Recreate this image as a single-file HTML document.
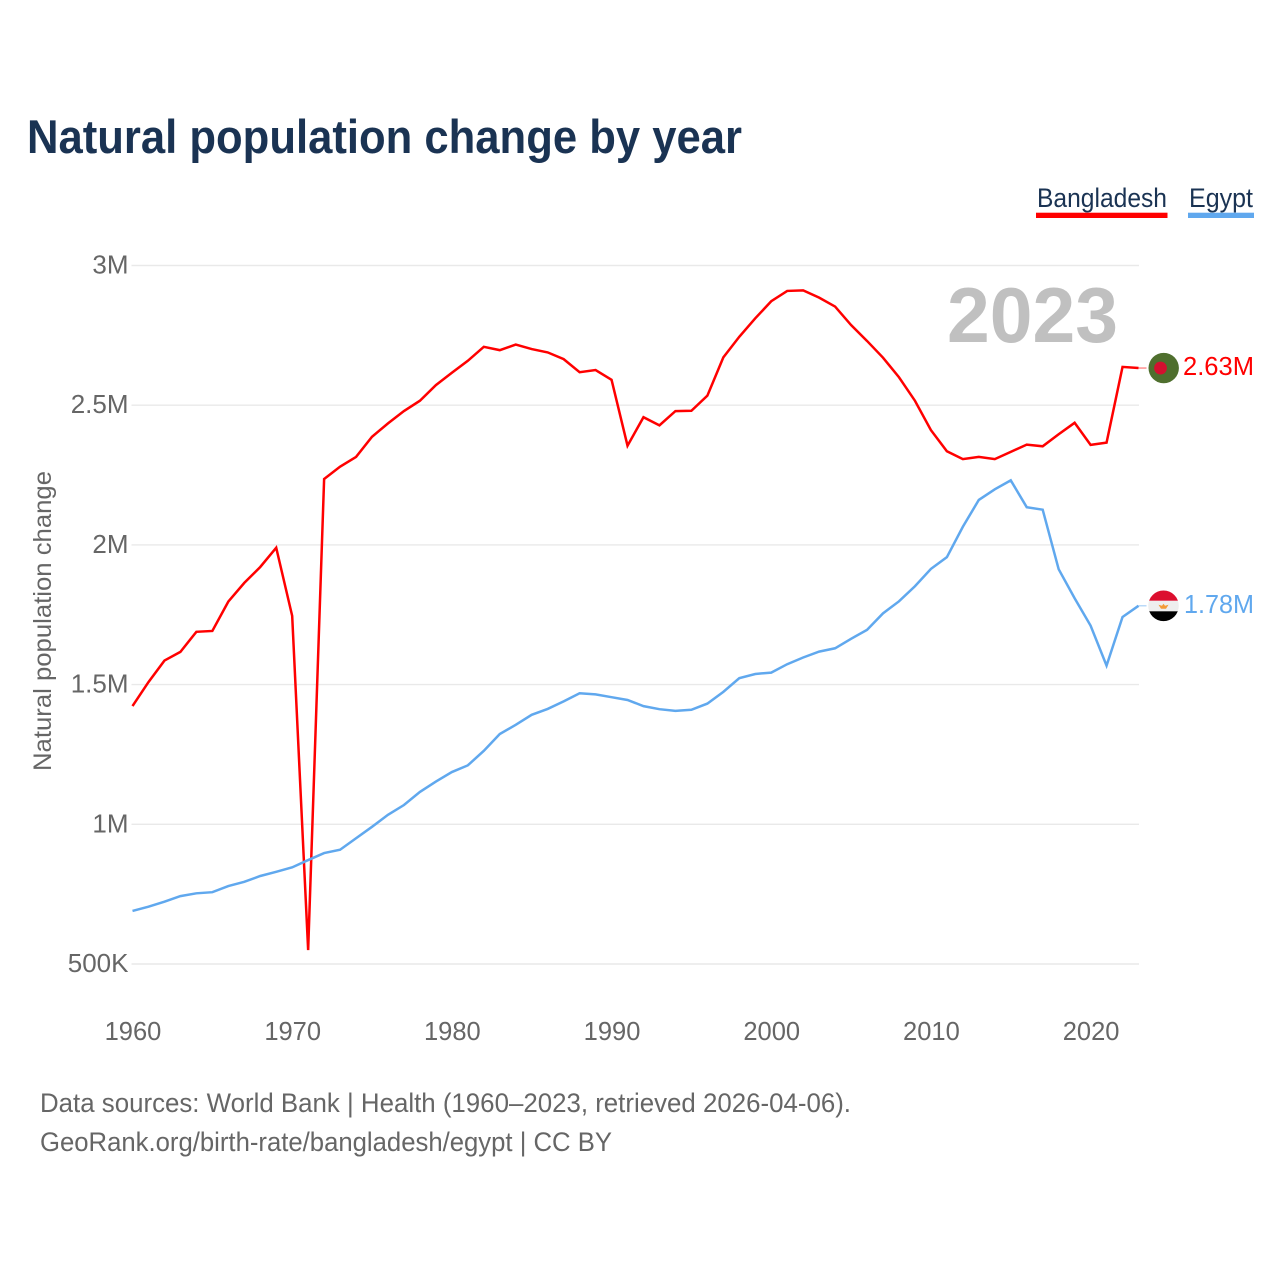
<!DOCTYPE html>
<html lang="en">
<head>
<meta charset="utf-8">
<title>Natural population change by year</title>
<style>
  html, body { margin: 0; padding: 0; background: #ffffff; }
  svg { display: block; font-family: "Liberation Sans", sans-serif; }
</style>
</head>
<body>
<svg id="chart" xmlns="http://www.w3.org/2000/svg" width="1280" height="1280" viewBox="0 0 1280 1280">
  <rect width="1280" height="1280" fill="#ffffff"/>
  <text x="27" y="153" font-size="47" font-weight="700" fill="#1a3353" textLength="715" lengthAdjust="spacingAndGlyphs">Natural population change by year</text>

  <g>
    <g>
      <text x="1037" y="207" font-size="27" fill="#1a3353" textLength="130" lengthAdjust="spacingAndGlyphs">Bangladesh</text>
      <rect x="1036" y="212.7" width="131.5" height="5.3" fill="#ff0000"/>
    </g>
    <g>
      <text x="1189" y="207" font-size="27" fill="#1a3353" textLength="64" lengthAdjust="spacingAndGlyphs">Egypt</text>
      <rect x="1188" y="212.7" width="66" height="5.3" fill="#60a8ee"/>
    </g>
  </g>

  <g id="grid"></g>
  <g id="y-labels"></g>
  <g id="x-labels"></g>

  <text transform="translate(51,621) rotate(-90)" text-anchor="middle" font-size="25" fill="#666666" textLength="300" lengthAdjust="spacingAndGlyphs">Natural population change</text>

  <text id="year-label" x="1118" y="342" text-anchor="end" font-size="78" font-weight="700" fill="#c0c0c0" textLength="171" lengthAdjust="spacingAndGlyphs"></text>

  <g id="series"></g>

  <g id="flag-bangladesh">
    <circle cx="0" cy="0" r="15.2" fill="#4f6f2e"/>
    <circle cx="-3.2" cy="0" r="6.4" fill="#d5102f"/>
  </g>

  <g id="flag-egypt">
    <clipPath id="egypt-clip"><circle cx="0" cy="0" r="15.3"/></clipPath>
    <g clip-path="url(#egypt-clip)">
      <rect x="-16" y="-16" width="32" height="11" fill="#dc0f2f"/>
      <rect x="-16" y="-5" width="32" height="10.5" fill="#eeeeee"/>
      <rect x="-16" y="5.5" width="32" height="11" fill="#000000"/>
      <path d="M-5,-1 L-1.5,0 L0,-2 L1.5,0 L5,-1 L2.5,3 L-2.5,3 Z" fill="#f39a36"/>
    </g>
  </g>

  <text id="value-bangladesh" x="1183" font-size="26" fill="#ff0000" textLength="71" lengthAdjust="spacingAndGlyphs"></text>
  <text id="value-egypt" x="1184" font-size="26" fill="#60a8ee" textLength="70" lengthAdjust="spacingAndGlyphs"></text>

  <g>
    <text x="40" y="1112" font-size="27" fill="#666666" textLength="811" lengthAdjust="spacingAndGlyphs">Data sources: World Bank | Health (1960–2023, retrieved 2026-04-06).</text>
    <text x="40" y="1151" font-size="27" fill="#666666" textLength="572" lengthAdjust="spacingAndGlyphs">GeoRank.org/birth-rate/bangladesh/egypt | CC BY</text>
  </g>
</svg>

<script>
const firstYear = 1960;
const lastYear = 2023;
const yTicks = [500000, 1000000, 1500000, 2000000, 2500000, 3000000];
const yTickLabels = ["500K", "1M", "1.5M", "2M", "2.5M", "3M"];
const xTicks = [1960, 1970, 1980, 1990, 2000, 2010, 2020];

// Natural population change, millions per year, 1960–2023
const bangladesh = [
  1.423, 1.509, 1.586, 1.617, 1.689, 1.692, 1.797, 1.864, 1.921, 1.990,
  1.746, 0.550, 2.236, 2.280, 2.315, 2.387, 2.435, 2.479, 2.516, 2.572,
  2.616, 2.659, 2.709, 2.697, 2.717, 2.701, 2.689, 2.665, 2.618, 2.626,
  2.591, 2.355, 2.457, 2.428, 2.479, 2.480, 2.534, 2.671, 2.745, 2.811,
  2.872, 2.909, 2.911, 2.885, 2.853, 2.787, 2.730, 2.670, 2.600, 2.516,
  2.411, 2.335, 2.307, 2.315, 2.307, 2.333, 2.359, 2.353, 2.396, 2.437,
  2.358, 2.366, 2.637, 2.633
];
const egypt = [
  0.690, 0.705, 0.723, 0.743, 0.753, 0.757, 0.779, 0.794, 0.815, 0.830,
  0.846, 0.872, 0.897, 0.909, 0.950, 0.991, 1.034, 1.069, 1.116, 1.153,
  1.187, 1.211, 1.263, 1.323, 1.356, 1.392, 1.413, 1.440, 1.469, 1.465,
  1.455, 1.445, 1.423, 1.412, 1.406, 1.410, 1.432, 1.474, 1.523, 1.538,
  1.543, 1.573, 1.597, 1.618, 1.630, 1.664, 1.696, 1.755, 1.798, 1.852,
  1.914, 1.956, 2.065, 2.161, 2.199, 2.231, 2.135, 2.126, 1.913, 1.809,
  1.711, 1.568, 1.742, 1.782
];

const SVG_NS = "http://www.w3.org/2000/svg";
const RED = "#ff0000";
const BLUE = "#60a8ee";
const PLOT_LEFT = 132.5;
const PLOT_RIGHT = 1138.5;
const Y_TOP = 265.5;
const Y_BOTTOM = 964;

function xScale(year) {
  return PLOT_LEFT + (year - firstYear) * (PLOT_RIGHT - PLOT_LEFT) / (lastYear - firstYear);
}
function yScale(value) {
  return Y_BOTTOM - (value - 500000) * (Y_BOTTOM - Y_TOP) / 2500000;
}
function make(tag, parentId) {
  const el = document.createElementNS(SVG_NS, tag);
  document.getElementById(parentId).appendChild(el);
  return el;
}
function formatMillions(m) {
  return m.toFixed(2) + "M";
}

yTicks.forEach(function (tick, i) {
  const line = make("line", "grid");
  
  
  line.setAttribute("x1", PLOT_LEFT - 1);
  line.setAttribute("x2", PLOT_RIGHT + 0.5);
  line.setAttribute("y1", yScale(tick));
  line.setAttribute("y2", yScale(tick));
  line.setAttribute("stroke", "#e9e9e9");
  line.setAttribute("stroke-width", "1.4");

  const label = make("text", "y-labels");
  
  
  label.setAttribute("x", 128.5);
  label.setAttribute("y", yScale(tick) + 8);
  label.setAttribute("text-anchor", "end");
  label.setAttribute("font-size", "26");
  label.setAttribute("fill", "#666666");
  label.textContent = yTickLabels[i];
});

xTicks.forEach(function (year) {
  const label = make("text", "x-labels");
  
  
  label.setAttribute("x", xScale(year) + 0.5);
  label.setAttribute("y", 1040);
  label.setAttribute("text-anchor", "middle");
  label.setAttribute("font-size", "25.5");
  label.setAttribute("fill", "#666666");
  label.textContent = year;
});

function drawSeries(values, color, lineName, connectorName) {
  const pts = values.map(function (v, i) {
    return xScale(firstYear + i).toFixed(2) + "," + yScale(v * 1e6).toFixed(2);
  }).join(" ");
  const endY = yScale(values[values.length - 1] * 1e6);

  const connector = make("line", "series");
  
  
  connector.setAttribute("x1", PLOT_RIGHT);
  connector.setAttribute("x2", PLOT_RIGHT + 8);
  connector.setAttribute("y1", endY);
  connector.setAttribute("y2", endY);
  connector.setAttribute("stroke", color);
  connector.setAttribute("stroke-width", "1.2");
  connector.setAttribute("stroke-opacity", "0.55");

  const line = make("polyline", "series");
  
  
  line.setAttribute("points", pts);
  line.setAttribute("fill", "none");
  line.setAttribute("stroke", color);
  line.setAttribute("stroke-width", "2.5");
  line.setAttribute("stroke-linejoin", "miter");
  return endY;
}

const endBangladesh = drawSeries(bangladesh, RED, "series-line-bangladesh", "end-connector-bangladesh");
const endEgypt = drawSeries(egypt, BLUE, "series-line-egypt", "end-connector-egypt");

document.getElementById("flag-bangladesh").setAttribute("transform", "translate(1163.7," + endBangladesh + ")");
document.getElementById("flag-egypt").setAttribute("transform", "translate(1163.5," + endEgypt + ")");

const vb = document.getElementById("value-bangladesh");
vb.setAttribute("y", endBangladesh + 7);
vb.textContent = formatMillions(bangladesh[bangladesh.length - 1]);

const ve = document.getElementById("value-egypt");
ve.setAttribute("y", endEgypt + 7);
ve.textContent = formatMillions(egypt[egypt.length - 1]);

document.getElementById("year-label").textContent = lastYear;
</script>
</body>
</html>
